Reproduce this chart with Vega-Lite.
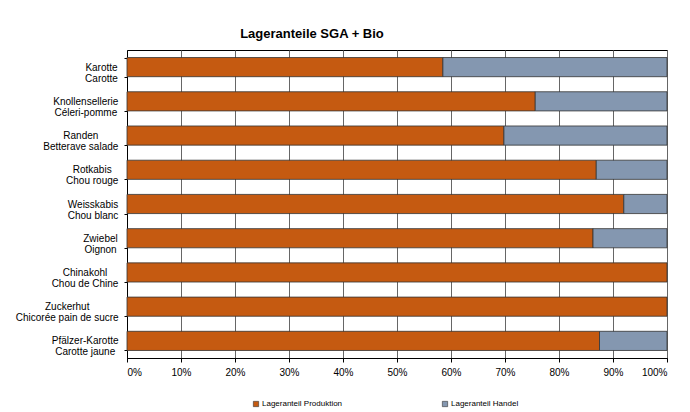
{
  "$schema": "https://vega.github.io/schema/vega-lite/v6.json",
  "width": 540,
  "height": 308,
  "autosize": {"type": "none"},
  "padding": {"left": 127, "top": 50, "right": 23, "bottom": 54},
  "background": "white",
  "title": {
    "text": "Lageranteile SGA + Bio",
    "font": "Liberation Sans",
    "fontSize": 13,
    "fontWeight": "bold",
    "color": "#000",
    "anchor": "middle",
    "dx": -85,
    "offset": 4
  },
  "data": {
    "values": [
      {"cat": "Karotte|Carotte", "typ": "Lageranteil Produktion", "o": 1, "v": 58.5},
      {"cat": "Karotte|Carotte", "typ": "Lageranteil Handel", "o": 2, "v": 41.5},
      {"cat": "Knollensellerie|Céleri-pomme", "typ": "Lageranteil Produktion", "o": 1, "v": 75.6},
      {"cat": "Knollensellerie|Céleri-pomme", "typ": "Lageranteil Handel", "o": 2, "v": 24.4},
      {"cat": "Randen|Betterave salade", "typ": "Lageranteil Produktion", "o": 1, "v": 69.8},
      {"cat": "Randen|Betterave salade", "typ": "Lageranteil Handel", "o": 2, "v": 30.2},
      {"cat": "Rotkabis|Chou rouge", "typ": "Lageranteil Produktion", "o": 1, "v": 86.9},
      {"cat": "Rotkabis|Chou rouge", "typ": "Lageranteil Handel", "o": 2, "v": 13.1},
      {"cat": "Weisskabis|Chou blanc", "typ": "Lageranteil Produktion", "o": 1, "v": 92.0},
      {"cat": "Weisskabis|Chou blanc", "typ": "Lageranteil Handel", "o": 2, "v": 8.0},
      {"cat": "Zwiebel|Oignon", "typ": "Lageranteil Produktion", "o": 1, "v": 86.3},
      {"cat": "Zwiebel|Oignon", "typ": "Lageranteil Handel", "o": 2, "v": 13.7},
      {"cat": "Chinakohl|Chou de Chine", "typ": "Lageranteil Produktion", "o": 1, "v": 100},
      {"cat": "Zuckerhut|Chicorée pain de sucre", "typ": "Lageranteil Produktion", "o": 1, "v": 100},
      {"cat": "Pfälzer-Karotte|Carotte jaune", "typ": "Lageranteil Produktion", "o": 1, "v": 87.5},
      {"cat": "Pfälzer-Karotte|Carotte jaune", "typ": "Lageranteil Handel", "o": 2, "v": 12.5}
    ]
  },
  "mark": {"type": "bar", "stroke": "#333333", "strokeWidth": 0.8},
  "encoding": {
    "y": {
      "field": "cat",
      "type": "nominal",
      "sort": null,
      "scale": {"paddingInner": 0.44, "paddingOuter": 0.22},
      "axis": {
        "title": null,
        "labelExpr": "split(datum.label, '|')",
        "labelFont": "Liberation Sans",
        "labelFontSize": 10,
        "labelColor": "#000",
        "labelLineHeight": 11,
        "labelAlign": "center",
        "labelBaseline": "middle",
        "labelLimit": 200,
        "labelPadding": {
          "condition": [
            {"test": "datum.value === 'Karotte|Carotte'", "value": 23},
            {"test": "datum.value === 'Knollensellerie|Céleri-pomme'", "value": 38.7},
            {"test": "datum.value === 'Randen|Betterave salade'", "value": 43.7},
            {"test": "datum.value === 'Rotkabis|Chou rouge'", "value": 32.3},
            {"test": "datum.value === 'Weisskabis|Chou blanc'", "value": 31.5},
            {"test": "datum.value === 'Zwiebel|Oignon'", "value": 24},
            {"test": "datum.value === 'Chinakohl|Chou de Chine'", "value": 39.5},
            {"test": "datum.value === 'Zuckerhut|Chicorée pain de sucre'", "value": 57.3}
          ],
          "value": 39.3
        },
        "tickBand": "extent",
        "tickSize": 3,
        "tickColor": "#000",
        "domainColor": "#000",
        "grid": false
      }
    },
    "x": {
      "field": "v",
      "type": "quantitative",
      "stack": "zero",
      "scale": {"domain": [0, 100], "nice": false},
      "axis": {
        "title": null,
        "values": [0, 10, 20, 30, 40, 50, 60, 70, 80, 90, 100],
        "labelExpr": "datum.value + '%'",
        "labelFont": "Liberation Sans",
        "labelFontSize": 10,
        "labelColor": "#000",
        "labelPadding": 5,
        "tickSize": 4,
        "tickColor": "#000",
        "domainColor": "#000",
        "grid": true,
        "gridColor": "#666666",
        "gridWidth": 1
      }
    },
    "color": {
      "field": "typ",
      "type": "nominal",
      "scale": {
        "domain": ["Lageranteil Produktion", "Lageranteil Handel"],
        "range": ["#C55A11", "#8497B0"]
      },
      "legend": {
        "title": null,
        "orient": "none",
        "direction": "horizontal",
        "legendX": 125,
        "legendY": 350,
        "padding": 0,
        "columnPadding": 98,
        "symbolType": "square",
        "symbolSize": 28,
        "symbolStrokeColor": "#333",
        "symbolStrokeWidth": 0.6,
        "labelFont": "Liberation Sans",
        "labelFontSize": 8,
        "labelColor": "#000",
        "labelOffset": 2
      }
    },
    "order": {"field": "o", "type": "quantitative"}
  },
  "config": {
    "view": {"stroke": "#000", "strokeWidth": 1}
  }
}
